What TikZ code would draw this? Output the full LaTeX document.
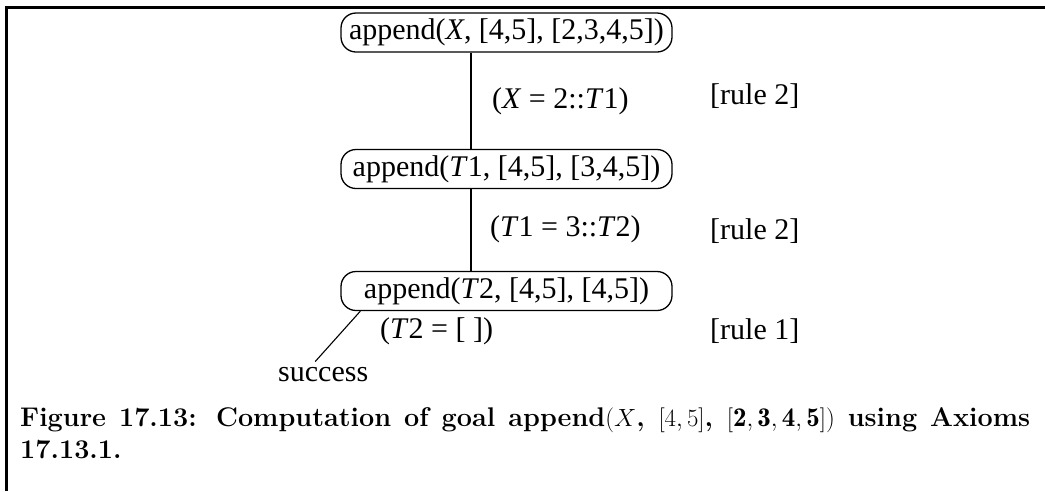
\documentclass[tikz,border=0pt]{standalone}
\usepackage{fontspec}
\newfontfamily\diafont{Liberation Serif}
\begin{document}
\begin{tikzpicture}[x=1pt,y=-1pt,
  goal/.style={draw,line width=1.3pt,rounded corners=15pt,minimum width=331pt,minimum height=39pt,inner sep=0pt,font=\diafont\fontsize{30}{34}\selectfont},
  lbl/.style={anchor=west,inner sep=0pt,font=\diafont\fontsize{30}{34}\selectfont},
  conn/.style={line width=1.1pt},
  frame/.style={line width=3pt}]
\useasboundingbox (0,0) rectangle (1045,491);
\draw[frame] (6,491) -- (6,7) -- (1045,7);
\node[goal] (n1) at (506.5,32.5) {append(\textit{X}, [4,5], [2,3,4,5])};
\node[goal] (n2) at (506.5,169) {append(\textit{T}1, [4,5], [3,4,5])};
\node[goal] (n3) at (506.5,291) {append(\textit{T}2, [4,5], [4,5])};
\node[lbl] (s) at (278,375) {success};
\node[lbl] (b1) at (492,101) {(\textit{X} = 2::\textit{T}1)};
\node[lbl] (r1) at (710,96) {[rule 2]};
\node[lbl] (b2) at (490,229) {(\textit{T}1 = 3::\textit{T}2)};
\node[lbl] (r2) at (710,231) {[rule 2]};
\node[lbl] (b3) at (380,331) {(\textit{T}2 = [ ])};
\node[lbl] (r3) at (710,331) {[rule 1]};
\draw[conn] ([xshift=-35.5pt]n1.south) -- ([xshift=-35.5pt]n2.north);
\draw[conn] ([xshift=-35.5pt]n2.south) -- ([xshift=-35.5pt]n3.north);
\draw[conn] ([xshift=20pt]n3.south west) -- ([xshift=-8pt,yshift=6pt]s.north);
\node[anchor=north west,inner sep=0pt,align=left,font=\fontsize{27}{32}\selectfont\bfseries] (cap) at (20,407)
 {\hbox to 1010pt{Figure 17.13: Computation of goal append$(X$, $[4,5]$, $[\mathbf{2},\mathbf{3},\mathbf{4},\mathbf{5}])$ using Axioms}\\17.13.1.};
\end{tikzpicture}
\end{document}
